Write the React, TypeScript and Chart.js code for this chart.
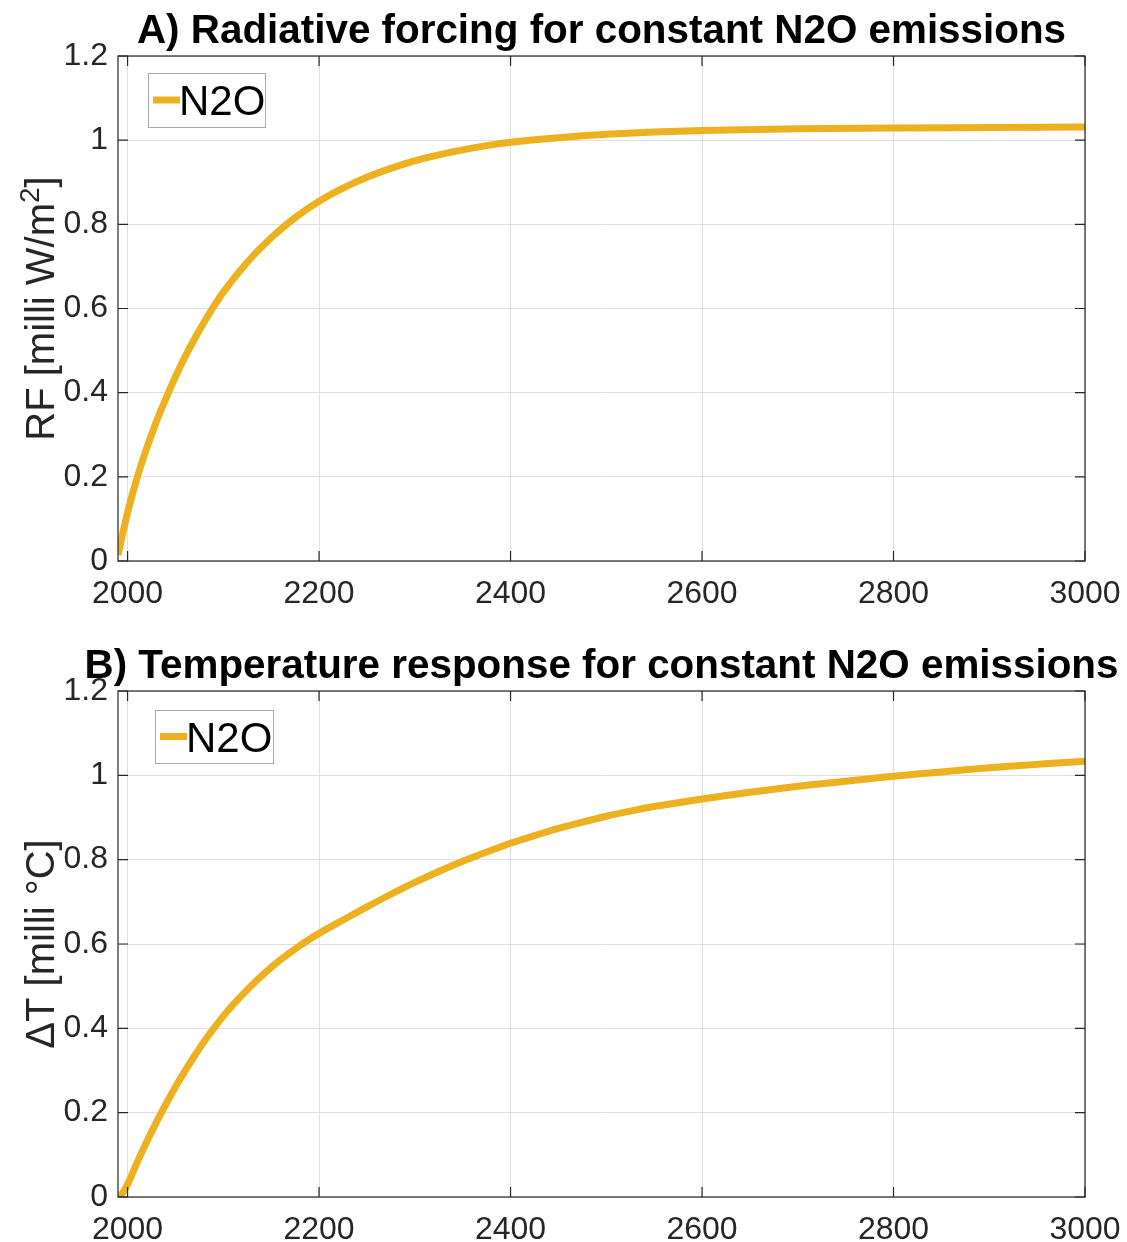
import React, { useEffect, useRef } from "react";
import { Chart, registerables } from "chart.js";
Chart.register(...registerables);

const yearsA = [1990, 1995, 2000, 2005, 2010, 2020, 2030, 2040, 2050, 2060, 2070, 2080, 2090, 2100, 2125, 2150, 2175, 2200, 2225, 2250, 2275, 2300, 2325, 2350, 2375, 2400, 2425, 2450, 2475, 2500, 2550, 2600, 2700, 2800, 2900, 3000];
const rfValues = [0.014, 0.066, 0.115, 0.158, 0.198, 0.268, 0.331, 0.386, 0.438, 0.485, 0.528, 0.568, 0.605, 0.639, 0.71, 0.768, 0.816, 0.855, 0.886, 0.912, 0.933, 0.951, 0.965, 0.977, 0.987, 0.995, 1.001, 1.006, 1.0105, 1.014, 1.0195, 1.023, 1.027, 1.029, 1.03, 1.031];

const yearsB = [1990, 1995, 2000, 2010, 2020, 2030, 2040, 2050, 2060, 2070, 2080, 2090, 2100, 2110, 2120, 2130, 2140, 2150, 2160, 2170, 2180, 2190, 2200, 2225, 2250, 2275, 2300, 2325, 2350, 2375, 2400, 2425, 2450, 2475, 2500, 2525, 2550, 2575, 2600, 2625, 2650, 2675, 2700, 2725, 2750, 2775, 2800, 2825, 2850, 2875, 2900, 2925, 2950, 2975, 3000];
const dtValues = [0, 0.01, 0.03, 0.082, 0.131, 0.177, 0.22, 0.261, 0.299, 0.335, 0.369, 0.4, 0.429, 0.4555, 0.48, 0.503, 0.5245, 0.5445, 0.563, 0.5802, 0.5962, 0.6112, 0.6252, 0.657, 0.688, 0.718, 0.746, 0.772, 0.796, 0.818, 0.839, 0.857, 0.874, 0.889, 0.903, 0.915, 0.926, 0.935, 0.944, 0.952, 0.96, 0.967, 0.974, 0.98, 0.986, 0.992, 0.998, 1.003, 1.008, 1.013, 1.018, 1.022, 1.026, 1.03, 1.0335];

const xTicks = [2000, 2200, 2400, 2600, 2800, 3000];
const xTickLabels = ["2000", "2200", "2400", "2600", "2800", "3000"];
const yTicks = [0, 0.2, 0.4, 0.6, 0.8, 1, 1.2];
const yTickLabels = ["0", "0.2", "0.4", "0.6", "0.8", "1", "1.2"];

const seriesLabel = "N2O";
const titleA = "A) Radiative forcing for constant N2O emissions";
const titleB = "B) Temperature response for constant N2O emissions";
const yLabelA = ["RF [milli W/m", "2", "]"];
const yLabelB = ["\u0394T [milli \u00B0C]", "", ""];

const LINE_COLOR = "#EDB120";
const AXIS_COLOR = "#262626";
const GRID_COLOR = "#dfdfdf";
const FONT = "'Liberation Sans', Arial, Helvetica, sans-serif";

type PanelCfg = {
  years: number[];
  values: number[];
  title: string;
  ylabel: string[];
  top: number;
  xHeight: number;
  legend: { dx: number; dy: number; w: number; h: number };
};

const W = 1127;
const H = 621;

function makePlugin(cfg: PanelCfg) {
  return {
    id: "matlabDecor",
    afterDraw(chart: any) {
      const ctx = chart.ctx as CanvasRenderingContext2D;
      const a = chart.chartArea;
      const xs = chart.scales.x;
      const ys = chart.scales.y;
      ctx.save();
      // box
      ctx.strokeStyle = AXIS_COLOR;
      ctx.lineWidth = 1.2;
      ctx.strokeRect(a.left, a.top, a.right - a.left, a.bottom - a.top);
      // inward ticks
      const tl = 10;
      ctx.beginPath();
      xTicks.forEach((v) => {
        const px = xs.getPixelForValue(v);
        ctx.moveTo(px, a.bottom);
        ctx.lineTo(px, a.bottom - tl);
        ctx.moveTo(px, a.top);
        ctx.lineTo(px, a.top + tl);
      });
      yTicks.forEach((v) => {
        const py = ys.getPixelForValue(v);
        ctx.moveTo(a.left, py);
        ctx.lineTo(a.left + tl, py);
        ctx.moveTo(a.right, py);
        ctx.lineTo(a.right - tl, py);
      });
      ctx.stroke();

      // title
      ctx.fillStyle = "#000";
      ctx.font = `bold 40.4px ${FONT}`;
      ctx.textAlign = "center";
      ctx.textBaseline = "alphabetic";
      ctx.fillText(cfg.title, (a.left + a.right) / 2, a.top - 13);

      // y label (rotated, with optional superscript)
      const cy = (a.top + a.bottom) / 2;
      ctx.save();
      ctx.translate(54, cy);
      ctx.rotate(-Math.PI / 2);
      ctx.fillStyle = AXIS_COLOR;
      ctx.textAlign = "left";
      const mainFont = `40px ${FONT}`;
      const supFont = `28px ${FONT}`;
      ctx.font = mainFont;
      const w1 = ctx.measureText(cfg.ylabel[0]).width;
      const w3 = ctx.measureText(cfg.ylabel[2]).width;
      ctx.font = supFont;
      const w2 = cfg.ylabel[1] ? ctx.measureText(cfg.ylabel[1]).width : 0;
      const total = w1 + w2 + w3;
      const x0 = -total / 2;
      ctx.font = mainFont;
      ctx.fillText(cfg.ylabel[0], x0, 0);
      if (cfg.ylabel[1]) {
        ctx.font = supFont;
        ctx.fillText(cfg.ylabel[1], x0 + w1, -15);
      }
      if (cfg.ylabel[2]) {
        ctx.font = mainFont;
        ctx.fillText(cfg.ylabel[2], x0 + w1 + w2, 0);
      }
      ctx.restore();

      // legend
      const lg = cfg.legend;
      const lx = a.left + lg.dx;
      const ly = a.top + lg.dy;
      ctx.fillStyle = "#fff";
      ctx.fillRect(lx, ly, lg.w, lg.h);
      ctx.strokeStyle = "#a8a8a8";
      ctx.lineWidth = 1;
      ctx.strokeRect(lx + 0.5, ly + 0.5, lg.w, lg.h);
      const midY = ly + lg.h / 2;
      ctx.strokeStyle = LINE_COLOR;
      ctx.lineWidth = 7;
      ctx.lineCap = "butt";
      ctx.beginPath();
      ctx.moveTo(lx + 5, midY);
      ctx.lineTo(lx + 32, midY);
      ctx.stroke();
      ctx.fillStyle = "#000";
      ctx.font = `42px ${FONT}`;
      ctx.textAlign = "left";
      ctx.textBaseline = "alphabetic";
      ctx.fillText(seriesLabel, lx + 31, midY + 15);
      ctx.restore();
    },
  };
}

function Panel({ cfg }: { cfg: PanelCfg }) {
  const ref = useRef<HTMLCanvasElement>(null);
  useEffect(() => {
    if (!ref.current) return;
    const chart = new Chart(ref.current, {
      type: "line",
      data: {
        datasets: [
          {
            label: seriesLabel,
            data: cfg.years.map((x, i) => ({ x, y: cfg.values[i] })),
            borderColor: LINE_COLOR,
            borderWidth: 7,
            pointRadius: 0,
            cubicInterpolationMode: "monotone",
            fill: false,
          },
        ],
      },
      options: {
        responsive: false,
        animation: false,
        layout: { padding: { left: 0, top: cfg.top, right: W - 1085, bottom: 0 } },
        plugins: { legend: { display: false }, tooltip: { enabled: false }, title: { display: false } },
        scales: {
          x: {
            type: "linear",
            min: 1990,
            max: 3000,
            afterBuildTicks: (s: any) => {
              s.ticks = xTicks.map((v) => ({ value: v }));
            },
            afterFit: (s: any) => {
              s.height = cfg.xHeight;
              s.paddingLeft = 0;
              s.paddingRight = 0;
            },
            ticks: {
              autoSkip: false,
              maxRotation: 0,
              padding: 14,
              color: AXIS_COLOR,
              font: { family: FONT, size: 32 },
              callback: (v: any) => {
                const i = xTicks.indexOf(Number(v));
                return i >= 0 ? xTickLabels[i] : "";
              },
            },
            grid: { color: GRID_COLOR, drawTicks: false, lineWidth: 1 },
            border: { display: false },
          },
          y: {
            type: "linear",
            min: 0,
            max: 1.2,
            afterBuildTicks: (s: any) => {
              s.ticks = yTicks.map((v) => ({ value: v }));
            },
            afterFit: (s: any) => {
              s.width = 118;
              s.paddingTop = 0;
              s.paddingBottom = 0;
            },
            ticks: {
              padding: 10,
              color: AXIS_COLOR,
              font: { family: FONT, size: 32 },
              callback: (v: any) => {
                const i = yTicks.findIndex((t) => Math.abs(t - Number(v)) < 1e-9);
                return i >= 0 ? yTickLabels[i] : "";
              },
            },
            grid: { color: GRID_COLOR, drawTicks: false, lineWidth: 1 },
            border: { display: false },
          },
        },
      },
      plugins: [makePlugin(cfg)],
    } as any);
    return () => chart.destroy();
  }, [cfg]);
  return <canvas ref={ref} width={W} height={H} style={{ display: "block", width: W, height: H }} />;
}

const panelA: PanelCfg = {
  years: yearsA,
  values: rfValues,
  title: titleA,
  ylabel: yLabelA,
  top: 56,
  xHeight: 60,
  legend: { dx: 30, dy: 17, w: 117, h: 54 },
};

const panelB: PanelCfg = {
  years: yearsB,
  values: dtValues,
  title: titleB,
  ylabel: yLabelB,
  top: 70,
  xHeight: 45,
  legend: { dx: 37, dy: 19, w: 118, h: 53 },
};

export default function App() {
  return (
    <div style={{ position: "absolute", left: 0, top: 0, width: W, height: 1242, background: "#fff" }}>
      <Panel cfg={panelA} />
      <Panel cfg={panelB} />
    </div>
  );
}
